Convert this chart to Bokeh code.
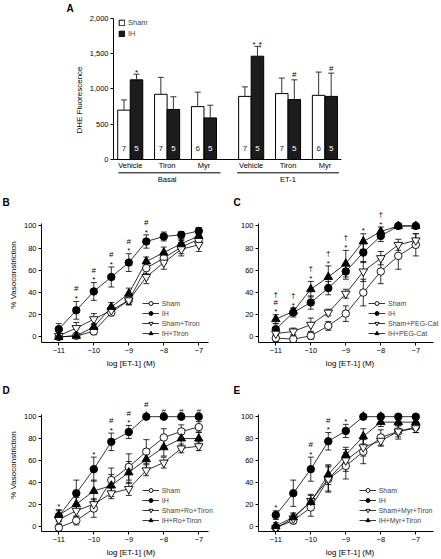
from bokeh.plotting import figure
from bokeh.layouts import column, row
from bokeh.models import (Range1d, FixedTicker, NumeralTickFormatter, Legend, LegendItem, Span)
from bokeh.core.properties import value
from bokeh.embed import file_html
from bokeh.resources import INLINE

FONT = "Liberation Sans"

# ---------------- Panel A data ----------------
a_treatments = ["Vehicle", "Tiron", "Myr", "Vehicle", "Tiron", "Myr"]
a_positions = [0, 1, 2, 3.28, 4.28, 5.28]
a_sections = ["Basal", "ET-1"]
a_sham = [700, 925, 750, 895, 935, 910]
a_sham_err = [145, 240, 205, 135, 220, 330]
a_ih = [1130, 710, 590, 1465, 850, 895]
a_ih_err = [80, 180, 180, 140, 280, 330]
a_n_sham = ["7", "7", "6", "7", "7", "6"]
a_n_ih = ["5", "5", "5", "5", "5", "5"]
a_sig = ["*", "", "", "* \u2020", "#", "#"]
a_yticks = [0, 500, 1000, 1500, 2000]

# ---------------- Panels B-E data ----------------
conc = [-11, -10.5, -10, -9.5, -9, -8.5, -8, -7.5, -7]
xticks = [-11, -10, -9, -8, -7]
xtick_labels = ["\u221211", "\u221210", "\u22129", "\u22128", "\u22127"]
yticks = [0, 20, 40, 60, 80, 100]

b_labels = ["Sham", "IH", "Sham+Tiron", "IH+Tiron"]
b_sham = [0, 1, 5, 22, 33, 62, 71, 81, 88]
b_sham_err = [2, 2, 3, 3, 4, 5, 5, 6, 5]
b_ih = [7, 24, 41, 54, 67, 86, 90.5, 92, 95.5]
b_ih_err = [5, 8, 8, 9, 8, 6, 4, 3, 3]
b_shamt = [1, 8, 16, 24, 33, 54, 67, 79, 83]
b_shamt_err = [2, 5, 5, 4, 4, 6, 6, 6, 6]
b_iht = [0, 1, 9, 27, 39, 68, 76, 84, 91]
b_iht_err = [2, 2, 3, 4, 5, 4, 5, 4, 3]
b_sig = ["", "*#", "*#", "*#", "*#", "*#", "", "", ""]

c_labels = ["Sham", "IH", "Sham+PEG-Cat", "IH+PEG-Cat"]
c_sham = [-1, -2, 1, 10, 21, 40, 59, 73, 83]
c_sham_err = [3, 3, 3, 4, 7, 12, 11, 12, 10]
c_ih = [7, 22, 31, 44, 59, 76, 91, 100, 100]
c_ih_err = [5, 4, 6, 6, 7, 9, 5, 0, 0]
c_shamp = [3, 5, 11, 22, 39, 59, 71, 83, 87]
c_shamp_err = [3, 3, 6, 3, 4, 9, 6, 5, 6]
c_ihp = [16, 23, 43, 54, 66, 86, 95, 100, 100]
c_ihp_err = [4, 3, 7, 10, 12, 7, 4, 0, 0]
c_sig = ["*#\u2020", "*\u2020", "*\u2020", "*\u2020", "*\u2020", "*", "*\u2020", "", ""]

d_labels = ["Sham", "IH", "Sham+Ro+Tiron", "IH+Ro+Tiron"]
d_sham = [-1.5, 5, 16, 42, 54, 68, 81, 86.5, 90.5]
d_sham_err = [3, 4, 8, 11, 12, 11, 8, 6, 5]
d_ih = [9, 30, 52, 77, 86, 100, 100, 100, 100]
d_ih_err = [5, 12, 11, 8, 6, 0, 0, 0, 0]
d_shamr = [6, 14, 20, 30, 34, 51, 58, 71, 73]
d_shamr_err = [4, 5, 5, 5, 6, 5, 5, 4, 4]
d_ihr = [10, 20, 32, 37, 49, 61, 72, 80, 80]
d_ihr_err = [5, 6, 10, 10, 10, 9, 8, 7, 6]
d_sig = ["*", "", "*", "*#", "*#", "*#", "#", "#", "#"]

e_labels = ["Sham", "IH", "Sham+Myr+Tiron", "IH+Myr+Tiron"]
e_sham = [-1.5, 5, 17, 43, 55, 68, 81, 86.5, 90.5]
e_sham_err = [3, 3, 8, 11, 12, 11, 7, 7, 5]
e_ih = [10, 30, 52, 77.5, 87, 100, 100, 100, 100]
e_ih_err = [4, 12, 11, 8, 6, 0, 0, 0, 0]
e_shamm = [-2, 7, 23, 43, 60, 72, 78, 86.5, 89.5]
e_shamm_err = [3, 4, 6, 12, 10, 8, 5, 5, 4]
e_ihm = [0, 8, 22, 47, 65, 82, 95, 95, 95]
e_ihm_err = [3, 4, 6, 9, 7, 7, 4, 3, 3]
e_sig = ["*", "", "*#", "*#", "*", "*", "*", "", ""]


def style_axes(p):
    for ax in p.axis:
        ax.axis_line_color = "black"
        ax.axis_line_width = 1
        ax.major_tick_line_color = "black"
        ax.major_tick_out = 3
        ax.major_tick_in = 0
        ax.minor_tick_line_color = None
        ax.major_label_text_font = FONT
        ax.major_label_text_font_size = "7.5px"
        ax.major_label_text_color = "black"
        ax.axis_label_text_font = FONT
        ax.axis_label_text_font_size = "8px"
        ax.axis_label_text_font_style = "normal"
        ax.axis_label_text_color = "black"
        ax.major_label_standoff = 2
        ax.axis_label_standoff = 3
    p.xgrid.visible = False
    p.ygrid.visible = False
    p.outline_line_color = None


def set_title(p, text, offset, standoff):
    p.title.text = text
    p.title.align = "left"
    p.title.offset = offset
    p.title.standoff = standoff
    p.title.text_font = FONT
    p.title.text_font_size = "10px"
    p.title.text_font_style = "bold"
    p.title.text_color = "black"


# ---------------- Panel A ----------------
A_SCALE = 0.0705
A_FRAME_H = 173
A_Y0 = -383
A_Y1 = A_Y0 + A_FRAME_H / A_SCALE
pa = figure(width=441, height=192, x_range=Range1d(-0.454, 5.73), y_range=Range1d(A_Y0, A_Y1),
            output_backend="svg", toolbar_location=None, x_axis_location=None,
            min_border_left=113, min_border_right=100, min_border_top=13, min_border_bottom=6)
pa.yaxis.ticker = FixedTicker(ticks=a_yticks)
pa.yaxis.formatter = NumeralTickFormatter(format="0,0")
pa.yaxis.bounds = (0, 2000)
pa.yaxis.axis_label = "DHE Fluorescence"
style_axes(pa)
set_title(pa, "A", -47, 0)

BW = 0.34
xs_sham = [x - BW / 2 for x in a_positions]
xs_ih = [x + BW / 2 for x in a_positions]
r_sham = pa.vbar(x=xs_sham, top=a_sham, bottom=0, width=BW, fill_color="white",
                 line_color="black", line_width=1)
r_ih = pa.vbar(x=xs_ih, top=a_ih, bottom=0, width=BW, fill_color="#1c1c1c",
               line_color="black", line_width=1)
for xs, vals, errs in ((xs_sham, a_sham, a_sham_err), (xs_ih, a_ih, a_ih_err)):
    hi = [v + e for v, e in zip(vals, errs)]
    pa.segment(x0=xs, y0=vals, x1=xs, y1=hi, line_color="#333333", line_width=1)
    pa.scatter(x=xs, y=hi, marker="dash", size=6, line_color="#333333", line_width=1)
pa.add_layout(Span(location=0, dimension="width", line_color="black", line_width=1))

pa.text(x=xs_sham, y=[152] * 6, text=a_n_sham, text_font=value(FONT), text_font_size="8px",
        text_align="center", text_baseline="middle", text_color="#222222")
pa.text(x=xs_ih, y=[152] * 6, text=a_n_ih, text_font=value(FONT), text_font_size="8px",
        text_align="center", text_baseline="middle", text_color="white")

sig_y = []
for v, e, s in zip(a_ih, a_ih_err, a_sig):
    sig_y.append(v + e + (20 if s.startswith("*") else 70))
pa.text(x=xs_ih, y=sig_y, text=a_sig, text_font=value(FONT), text_font_size="8px",
        text_align="center", text_baseline="alphabetic", text_color="black")

pa.text(x=a_positions, y=[-85] * 6, text=a_treatments, text_font=value(FONT),
        text_font_size="7.5px", text_align="center", text_baseline="middle", text_color="black")
sec_x0 = [a_positions[0] - 0.32, a_positions[3] - 0.38]
sec_x1 = [a_positions[2] + 0.45, a_positions[5] + 0.38]
pa.segment(x0=sec_x0, y0=[-189, -189], x1=sec_x1, y1=[-189, -189], line_color="black", line_width=1)
pa.text(x=[(a_positions[0] + a_positions[2]) / 2, (a_positions[3] + a_positions[5]) / 2],
        y=[-290, -290], text=a_sections, text_font=value(FONT), text_font_size="7.5px",
        text_align="center", text_baseline="middle", text_color="black")

leg_a = Legend(items=[LegendItem(label="Sham", renderers=[r_sham]),
                      LegendItem(label="IH", renderers=[r_ih])],
               location="top_left", margin=5, padding=0, spacing=2,
               glyph_width=7, glyph_height=7, label_height=9, label_standoff=3,
               label_text_font=FONT, label_text_font_size="7.5px",
               border_line_color=None, background_fill_alpha=0)
pa.add_layout(leg_a)

# ---------------- Panels B-E ----------------
SY = 1.11
SX = 35.0
Y0 = -5.0
X0 = -11.494


def line_panel(tag, labels, data, sig, width, bl, bt, bb, frame_h, axis_w,
               ylabel, leg_x, leg_v, tag_offset, tag_standoff):
    frame_w = width - bl
    y1 = Y0 + frame_h / SY
    x1 = X0 + frame_w / SX
    p = figure(width=width, height=bt + frame_h + bb, x_range=Range1d(X0, x1),
               y_range=Range1d(Y0, y1), output_backend="svg", toolbar_location=None,
               min_border_left=bl, min_border_right=0, min_border_top=bt, min_border_bottom=bb)
    p.xaxis.ticker = FixedTicker(ticks=xticks)
    p.xaxis.major_label_overrides = {t: l for t, l in zip(xticks, xtick_labels)}
    p.xaxis.bounds = (X0, X0 + axis_w / SX)
    p.xaxis.axis_label = "log [ET-1] (M)"
    p.yaxis.ticker = FixedTicker(ticks=yticks)
    p.yaxis.bounds = (Y0, 102)
    if ylabel:
        p.yaxis.axis_label = ylabel
    style_axes(p)
    set_title(p, tag, tag_offset, tag_standoff)

    styles = [("circle", "white"), ("circle", "black"),
              ("inverted_triangle", "white"), ("triangle", "black")]
    sizes = [7.5, 7.5, 8.5, 8.5]
    for vals, errs in data:
        lo = [v - e for v, e in zip(vals, errs)]
        hi = [v + e for v, e in zip(vals, errs)]
        p.segment(x0=conc, y0=lo, x1=conc, y1=hi, line_color="black", line_width=0.8)
        p.scatter(x=conc, y=lo, marker="dash", size=6, line_color="black", line_width=0.8)
        p.scatter(x=conc, y=hi, marker="dash", size=6, line_color="black", line_width=0.8)
    line_rs = [p.line(x=conc, y=vals, line_color="black", line_width=0.8) for vals, _ in data]
    items = []
    for lr, (vals, _), (mk, fill), sz, lab in zip(line_rs, data, styles, sizes, labels):
        sr = p.scatter(x=conc, y=vals, marker=mk, size=sz, fill_color=fill,
                       line_color="black", line_width=0.9)
        items.append(LegendItem(label=lab, renderers=[lr, sr]))

    tx, ty, tt = [], [], []
    for i, s in enumerate(sig):
        if not s:
            continue
        top = max(v[i] + e[i] for v, e in data)
        for k, ch in enumerate(s):
            vis = top + 4.5 + 6.8 * k
            tx.append(conc[i])
            ty.append(vis - (2.2 / SY if ch == "*" else 0))
            tt.append(ch)
    p.text(x=tx, y=ty, text=tt, text_font=value(FONT), text_font_size="8px",
           text_align="center", text_baseline="middle", text_color="black")

    leg = Legend(items=items, location=(leg_x, (leg_v - Y0) * SY - 5), margin=0, padding=0,
                 spacing=0, glyph_width=17, glyph_height=10, label_height=10, label_standoff=3,
                 label_text_font=FONT, label_text_font_size="7px",
                 border_line_color=None, background_fill_alpha=0)
    p.add_layout(leg)
    return p


pb = line_panel("B", b_labels,
                [(b_sham, b_sham_err), (b_ih, b_ih_err), (b_shamt, b_shamt_err), (b_iht, b_iht_err)],
                b_sig, 220, 41, 15, 36, 135, 167, "% Vasoconstriction", 100.7, 2.9, -39, 0)
pc = line_panel("C", c_labels,
                [(c_sham, c_sham_err), (c_ih, c_ih_err), (c_shamp, c_shamp_err), (c_ihp, c_ihp_err)],
                c_sig, 221, 38, 15, 36, 135, 175, None, 110, 2.9, -25, 0)
pd_ = line_panel("D", d_labels,
                 [(d_sham, d_sham_err), (d_ih, d_ih_err), (d_shamr, d_shamr_err), (d_ihr, d_ihr_err)],
                 d_sig, 220, 41, 20, 26, 135, 167, "% Vasoconstriction", 100.7, 4.5, -39, 6)
pe = line_panel("E", e_labels,
                [(e_sham, e_sham_err), (e_ih, e_ih_err), (e_shamm, e_shamm_err), (e_ihm, e_ihm_err)],
                e_sig, 221, 38, 20, 26, 135, 175, None, 100.7, 4.5, -25, 6)

layout = column(pa, row(pb, pc), row(pd_, pe))
open("out.html", "w").write(file_html(layout, INLINE))
